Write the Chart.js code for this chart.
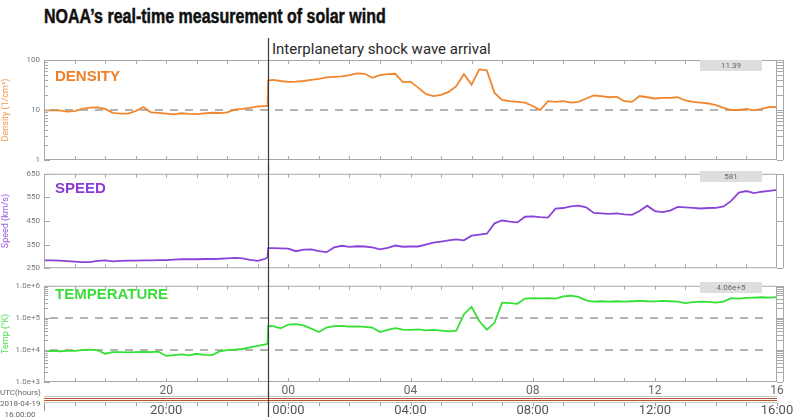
<!DOCTYPE html>
<html lang="en">
<head>
<meta charset="UTF-8">
<title>NOAA real-time solar wind</title>
<script src="https://cdn.jsdelivr.net/npm/chart.js@4"></script>
<style>
  body { margin: 0; width: 800px; height: 417px; overflow: hidden; background: #fff; position: relative; font-family: Roboto, sans-serif; }
  canvas { position: absolute; left: 0; }
  .title { position: absolute; left: 44px; top: 6px; font: bold 20px/20px "Liberation Sans", Arial, sans-serif; color: #111; white-space: nowrap; transform: scaleX(0.8); transform-origin: left top; -webkit-text-stroke: 0.5px #111; }
  .note { position: absolute; left: 272px; top: 42px; font: 15px/15px Roboto, sans-serif; color: #2a2a2a; white-space: nowrap; }
  .panel { position: absolute; left: 55px; font: bold 15px/15px "Liberation Sans", Arial, sans-serif; white-space: nowrap; }
  .now { position: absolute; left: 700px; width: 62px; height: 11px; background: #dedede; font: 8px/11px Roboto, sans-serif; color: #666; text-align: center; }
  .utc { position: absolute; left: 0; width: 40px; text-align: center; font: 8px/10px Roboto, sans-serif; color: #666; white-space: nowrap; }
</style>
</head>
<body>
<div class="title">NOAA’s real-time measurement of solar wind</div>
<div class="note">Interplanetary shock wave arrival</div>

<canvas id="density" width="800" height="132" style="top:38px"></canvas>
<canvas id="speed" width="800" height="112" style="top:165px"></canvas>
<canvas id="temp" width="800" height="120" style="top:277px"></canvas>
<canvas id="clock" width="800" height="25" style="top:392px"></canvas>

<div class="panel" style="top:68px;color:#ef7f22">DENSITY</div>
<div class="panel" style="top:180px;color:#8a3cd6">SPEED</div>
<div class="panel" style="top:286px;color:#3ddc3d">TEMPERATURE</div>
<div class="now" id="now0" style="top:60px"></div>
<div class="now" id="now1" style="top:171px"></div>
<div class="now" id="now2" style="top:282px"></div>
<div class="utc" style="top:388px">UTC(hours)</div>
<div class="utc" style="top:399px">2018-04-19</div>
<div class="utc" style="top:410px">16:00:00</div>

<script>
// hours after 2018-04-19 16:00 UTC
const hours = [
  0, 0.25, 0.5, 0.75, 1, 1.25, 1.5, 1.75, 2, 2.25, 2.5, 2.75, 3, 3.25, 3.5, 3.75,
  4, 4.25, 4.5, 4.75, 5, 5.25, 5.5, 5.75, 6, 6.25, 6.5, 6.75, 7, 7.25, 7.32, 7.34,
  7.5, 7.75, 8, 8.25, 8.5, 8.75, 9, 9.25, 9.5, 9.75, 10, 10.25, 10.5, 10.75, 11, 11.25,
  11.5, 11.75, 12, 12.25, 12.5, 12.75, 13, 13.25, 13.5, 13.75, 14, 14.25, 14.5, 14.75,
  15, 15.25, 15.5, 15.75, 16, 16.25, 16.5, 16.75, 17, 17.25, 17.5, 17.75, 18, 18.25,
  18.5, 18.75, 19, 19.25, 19.5, 19.75, 20, 20.25, 20.5, 20.75, 21, 21.25, 21.5, 21.75,
  22, 22.25, 22.5, 22.75, 23, 23.25, 23.5, 23.75, 24
];

// density, 1/cm3
const density = [
  9.7, 9.8, 9.8, 9.3, 9.5, 10.5, 11.2, 11.3, 10.5, 8.8, 8.5, 8.5, 9.5, 11.5, 9.0, 8.8,
  8.5, 8.2, 8.6, 8.4, 8.3, 8.6, 8.8, 8.7, 9.0, 10.2, 10.5, 11.0, 11.8, 12.0, 12.0, 39,
  40, 38, 36.5, 37, 38, 40, 42, 45, 46, 47, 50, 54, 53, 44, 50, 52,
  53, 36, 37, 28, 21, 19, 20, 23, 30, 52, 32, 65, 62, 22,
  16, 15, 14.5, 14, 12, 10, 15, 14.5, 15, 14, 14.5, 17, 19.5, 19,
  18, 18.5, 15, 14.5, 19, 18, 17, 17.5, 17.5, 18, 15.5, 14.5, 14, 13.5,
  12.5, 11, 10, 10, 10.5, 9.8, 10.5, 11.5, 11.4
];

// bulk speed, km/s
const speed = [
  283, 283, 282, 280, 278, 276, 276, 281, 283, 279, 281, 282, 282, 283, 283, 284,
  284, 286, 288, 288, 288, 289, 289, 290, 292, 294, 292, 285, 281, 290, 296, 335,
  335, 334, 333, 322, 329, 330, 322, 318, 338, 345, 340, 343, 342, 338, 330, 336,
  346, 341, 342, 342, 350, 358, 363, 368, 372, 368, 388, 392, 396, 440,
  452, 447, 444, 468, 470, 466, 464, 502, 505, 512, 515, 508, 484, 482,
  480, 482, 478, 476, 492, 515, 492, 488, 494, 510, 508, 506, 503, 505,
  506, 512, 535, 570, 577, 568, 574, 578, 582
];

// temperature, K
const temperature = [
  9100, 9300, 9100, 9400, 9300, 9800, 10200, 9900, 7600, 8500, 8600, 8400, 8500, 8700, 8600, 8800,
  6500, 6900, 7300, 6800, 7600, 7000, 6900, 9000, 9800, 10200, 10700, 12000, 13400, 15000, 15500, 56000,
  55000, 47000, 62000, 64000, 58000, 46000, 36000, 50000, 55000, 56000, 53000, 54000, 52000, 50000, 36000, 42000,
  48000, 43000, 42000, 44000, 41000, 42000, 40000, 38000, 40000, 130000, 220000, 80000, 43000, 70000,
  300000, 290000, 275000, 400000, 410000, 405000, 410000, 400000, 470000, 490000, 450000, 350000, 320000, 330000,
  320000, 330000, 320000, 330000, 340000, 330000, 325000, 340000, 330000, 320000, 290000, 310000, 320000, 315000,
  300000, 320000, 410000, 400000, 420000, 430000, 440000, 430000, 445000
];

const shockHour = 7.33;
const currentValues = ['11.39', '581', '4.06e+5'];
const densityTicks = [1, 10, 100];
const speedTicks = [250, 350, 450, 550, 650];
const tempTicks = [1e3, 1e4, 1e5, 1e6];
const densityRefs = [10];
const tempRefs = [1e4, 1e5];
const panelHourLabels = ['', '20', '00', '04', '08', '12', '16'];
const clockHourLabels = ['', '20:00', '00:00', '04:00', '08:00', '12:00', '16:00'];

currentValues.forEach((v, i) => { document.getElementById('now' + i).textContent = v; });

Chart.defaults.font.family = 'Roboto, sans-serif';

function seg(ctx, x1, y1, x2, y2) {
  ctx.beginPath();
  ctx.moveTo(x1, y1);
  ctx.lineTo(x2, y2);
  ctx.stroke();
}

// 2..9 of every decade, for the little ladder on log axes
function logMinors(lo, hi) {
  const out = [];
  for (let d = lo; d < hi; d *= 10) {
    for (let k = 2; k <= 9; k++) out.push(d * k);
  }
  return out;
}

function drawShock(chart, hour) {
  const { ctx, scales: { x } } = chart;
  const px = Math.round(x.getPixelForValue(hour)) + 0.5;
  ctx.save();
  ctx.strokeStyle = '#3a3a3a';
  ctx.lineWidth = 1.2;
  seg(ctx, px, 0, px, chart.height);
  ctx.restore();
}

const panelFrame = {
  id: 'panelFrame',
  beforeDatasetsDraw(chart, args, o) {
    if (!o.refs) return;
    const { ctx, chartArea: a, scales: { y } } = chart;
    ctx.save();
    ctx.strokeStyle = '#9a9a9a';
    ctx.lineWidth = 1.5;
    ctx.setLineDash([8, 7]);
    o.refs.forEach(v => {
      const py = Math.round(y.getPixelForValue(v));
      seg(ctx, a.left + 6, py, a.right - 8, py);
    });
    ctx.restore();
  },
  afterDatasetsDraw(chart, args, o) {
    const { ctx, chartArea: a, scales: { x, y } } = chart;
    ctx.save();
    ctx.strokeStyle = '#a8a8a8';
    ctx.lineWidth = 1;
    ctx.strokeRect(a.left + 0.5, a.top + 0.5, a.right - a.left - 1, a.bottom - a.top - 1);
    for (let h = 1; h < 24; h++) {
      const px = Math.round(x.getPixelForValue(h)) + 0.5;
      seg(ctx, px, a.top, px, a.top + 4);
      seg(ctx, px, a.bottom - 4, px, a.bottom);
    }
    const marks = o.major.map(v => [v, 6]).concat((o.minor || []).map(v => [v, 4]));
    marks.forEach(([v, len]) => {
      const py = Math.round(y.getPixelForValue(v)) + 0.5;
      seg(ctx, a.left, py, a.left + len, py);
      seg(ctx, a.right, py, a.right + 6, py);
    });
    seg(ctx, a.right + 6.5, a.top, a.right + 6.5, a.bottom);
    ctx.restore();
  },
  afterDraw(chart, args, o) {
    drawShock(chart, o.shock);
  }
};

const clockBar = {
  id: 'clockBar',
  afterDraw(chart, args, o) {
    const { ctx, chartArea: a, scales: { x } } = chart;
    ctx.save();
    ctx.lineWidth = 1;
    ctx.strokeStyle = '#c4c4c4';
    seg(ctx, a.left, a.top + 0.5, a.right, a.top + 0.5);
    seg(ctx, a.left, a.bottom - 0.5, a.right, a.bottom - 0.5);
    ctx.strokeStyle = '#b9542c';
    ctx.lineWidth = 1.2;
    seg(ctx, a.left, a.top + 2.5, a.right, a.top + 2.5);
    seg(ctx, a.left, a.top + 4.5, a.right, a.top + 4.5);
    ctx.strokeStyle = '#999';
    ctx.lineWidth = 1;
    for (let h = 1; h <= 24; h++) {
      const px = Math.round(x.getPixelForValue(h)) + 0.5;
      seg(ctx, px, a.bottom, px, a.bottom + 3);
    }
    seg(ctx, a.left + 0.5, a.bottom, a.left + 0.5, a.bottom + 8);
    ctx.restore();
    drawShock(chart, o.shock);
  }
};

function yScale(extra) {
  return Object.assign({
    grid: { display: false, drawTicks: false },
    border: { display: false },
    afterFit: s => { s.width = 44; }
  }, extra);
}

function panel(id, values, color, padding, y, frame, xAxis) {
  return new Chart(document.getElementById(id), {
    type: 'line',
    data: {
      datasets: [{
        data: hours.map((h, i) => ({ x: h, y: values[i] })),
        borderColor: color,
        borderWidth: 1.8,
        pointRadius: 0,
        tension: 0
      }]
    },
    options: {
      responsive: false,
      animation: false,
      events: [],
      layout: { padding: padding },
      plugins: {
        legend: { display: false },
        tooltip: { enabled: false },
        panelFrame: frame
      },
      scales: {
        x: xAxis || { type: 'linear', min: 0, max: 24, display: false },
        y: y
      }
    },
    plugins: [panelFrame]
  });
}

const tickFont = { size: 8 };
const titleFont = { size: 9 };

panel('density', density, '#f0872e', { top: 22, bottom: 10, left: 0, right: 23 },
  yScale({
    type: 'logarithmic', min: 1, max: 100,
    afterBuildTicks: s => { s.ticks = densityTicks.map(v => ({ value: v })); },
    ticks: { font: tickFont, color: '#777', padding: 4, callback: v => String(v) },
    title: { display: true, text: 'Density (1/cm³)', color: '#f29a50', font: titleFont, padding: { top: 0, bottom: 1 } }
  }),
  { refs: densityRefs, major: densityTicks, minor: logMinors(1, 100), shock: shockHour });

panel('speed', speed, '#8b44d9', { top: 5, bottom: 7, left: 0, right: 23 },
  yScale({
    type: 'linear', min: 250, max: 650,
    afterBuildTicks: s => { s.ticks = speedTicks.map(v => ({ value: v })); },
    ticks: { font: tickFont, color: '#777', padding: 4 },
    title: { display: true, text: 'Speed (km/s)', color: '#9a5be0', font: titleFont, padding: { top: 0, bottom: 1 } }
  }),
  { major: speedTicks, shock: shockHour });

panel('temp', temperature, '#35e035', { top: 5, bottom: 0, left: 0, right: 23 },
  yScale({
    type: 'logarithmic', min: 1e3, max: 1e6,
    afterBuildTicks: s => { s.ticks = tempTicks.map(v => ({ value: v })); },
    ticks: { font: tickFont, color: '#777', padding: 4, callback: v => Number(v).toExponential(1) },
    title: { display: true, text: 'Temp (°K)', color: '#55e055', font: titleFont, padding: { top: 0, bottom: 1 } }
  }),
  { refs: tempRefs, major: tempTicks, minor: logMinors(1e3, 1e6), shock: shockHour },
  {
    type: 'linear', min: 0, max: 24,
    grid: { display: false, drawTicks: false },
    border: { display: false },
    afterFit: s => { s.height = 15; },
    afterBuildTicks: s => { s.ticks = panelHourLabels.map((l, i) => ({ value: i * 4 })); },
    ticks: { font: { size: 12 }, color: '#666', padding: 2, maxRotation: 0, autoSkip: false,
             callback: v => panelHourLabels[v / 4] }
  });

new Chart(document.getElementById('clock'), {
  type: 'line',
  data: { datasets: [] },
  options: {
    responsive: false,
    animation: false,
    events: [],
    layout: { padding: { top: 4, bottom: 0, left: 44, right: 23 } },
    plugins: { legend: { display: false }, tooltip: { enabled: false }, clockBar: { shock: shockHour } },
    scales: {
      x: {
        type: 'linear', min: 0, max: 24,
        grid: { display: false, drawTicks: false },
        border: { display: false },
        afterFit: s => { s.height = 14; },
        afterBuildTicks: s => { s.ticks = clockHourLabels.map((l, i) => ({ value: i * 4 })); },
        ticks: { font: { size: 13 }, color: '#555', padding: 0, maxRotation: 0, autoSkip: false,
                 callback: v => clockHourLabels[v / 4] }
      },
      y: { display: false, min: 0, max: 1 }
    }
  },
  plugins: [clockBar]
});
</script>
</body>
</html>
